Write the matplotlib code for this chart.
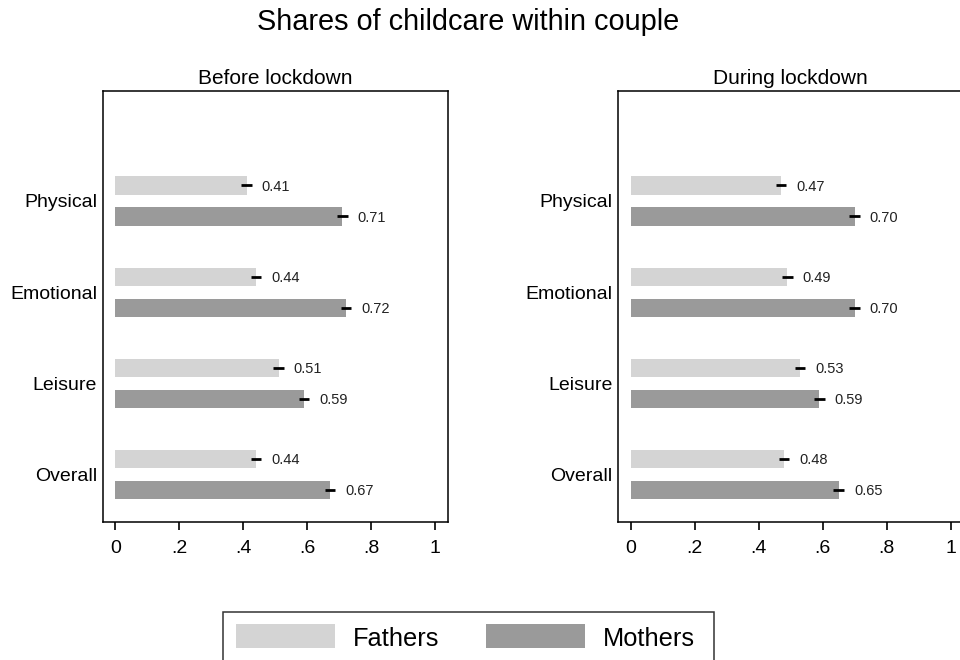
import matplotlib
matplotlib.use("Agg")
import matplotlib.pyplot as plt
from matplotlib.patches import Rectangle

categories = ["Physical", "Emotional", "Leisure", "Overall"]
series = ["Fathers", "Mothers"]
panels = ["Before lockdown", "During lockdown"]
before_fathers = [0.41, 0.44, 0.51, 0.44]
before_mothers = [0.71, 0.72, 0.59, 0.67]
during_fathers = [0.47, 0.49, 0.53, 0.48]
during_mothers = [0.70, 0.70, 0.59, 0.65]
ci_halfwidth = 0.016
xticks = [0, 0.2, 0.4, 0.6, 0.8, 1.0]
xticklabels = ["0", ".2", ".4", ".6", ".8", "1"]
title = "Shares of childcare within couple"

colors = ["#d4d4d4", "#9a9a9a"]

plt.rcParams['font.family'] = ['Liberation Sans', 'DejaVu Sans']
W, H = 960, 660
fig = plt.figure(figsize=(9.6, 6.6), dpi=100)


def fx(px):
    return px / W


def fy(py):
    return 1 - py / H


ax_w = 345.3 / W
ax_h = (522 - 91) / H
axes = [fig.add_axes([fx(102.7), fy(522), ax_w, ax_h]),
        fig.add_axes([fx(618), fy(522), ax_w, ax_h])]
data = [(before_fathers, before_mothers), (during_fathers, during_mothers)]
offsets = [-0.17, 0.17]

for ax, ptitle, vals in zip(axes, panels, data):
    for v, c, off in zip(vals, colors, offsets):
        y = [i + off for i in range(len(categories))]
        ax.barh(y, v, height=0.2, color=c, edgecolor='none')
        ax.errorbar(v, y, xerr=ci_halfwidth, fmt='none', ecolor='black',
                    elinewidth=2, capsize=0)
        for xi, yi in zip(v, y):
            ax.annotate(f"{xi:.2f}", (xi, yi), xytext=(11, -1),
                        textcoords='offset points', ha='left', va='center',
                        fontsize=10.5, color='#222222')
    ax.set_xlim(-0.04, 1.04)
    ax.set_ylim(3.52, -1.205)
    ax.set_yticks(range(len(categories)))
    ax.set_yticklabels(categories, fontsize=14)
    ax.tick_params(axis='y', length=0, pad=4)
    ax.set_xticks(xticks)
    ax.set_xticklabels(xticklabels, fontsize=14)
    ax.tick_params(axis='x', length=6, width=1.2, pad=7, direction='out')
    for s in ax.spines.values():
        s.set_linewidth(1.1)
    ax.set_title(ptitle, fontsize=15, pad=5)

fig.text(fx(468.5), fy(30.5), title, ha='center', va='baseline', fontsize=20.8)

# legend
fig.add_artist(Rectangle((fx(223), fy(680)), fx(714 - 223), (680 - 612) / H,
                         transform=fig.transFigure, fill=False,
                         edgecolor='#333333', lw=1.1))
patch_x = [236, 486]
for name, c, px in zip(series, colors, patch_x):
    fig.add_artist(Rectangle((fx(px), fy(648)), fx(99), 24 / H,
                             transform=fig.transFigure, facecolor=c,
                             edgecolor='none'))
    fig.text(fx(px + 117), fy(646.5), name, ha='left', va='baseline',
             fontsize=18.3)

fig.savefig("out.png", dpi=100)
